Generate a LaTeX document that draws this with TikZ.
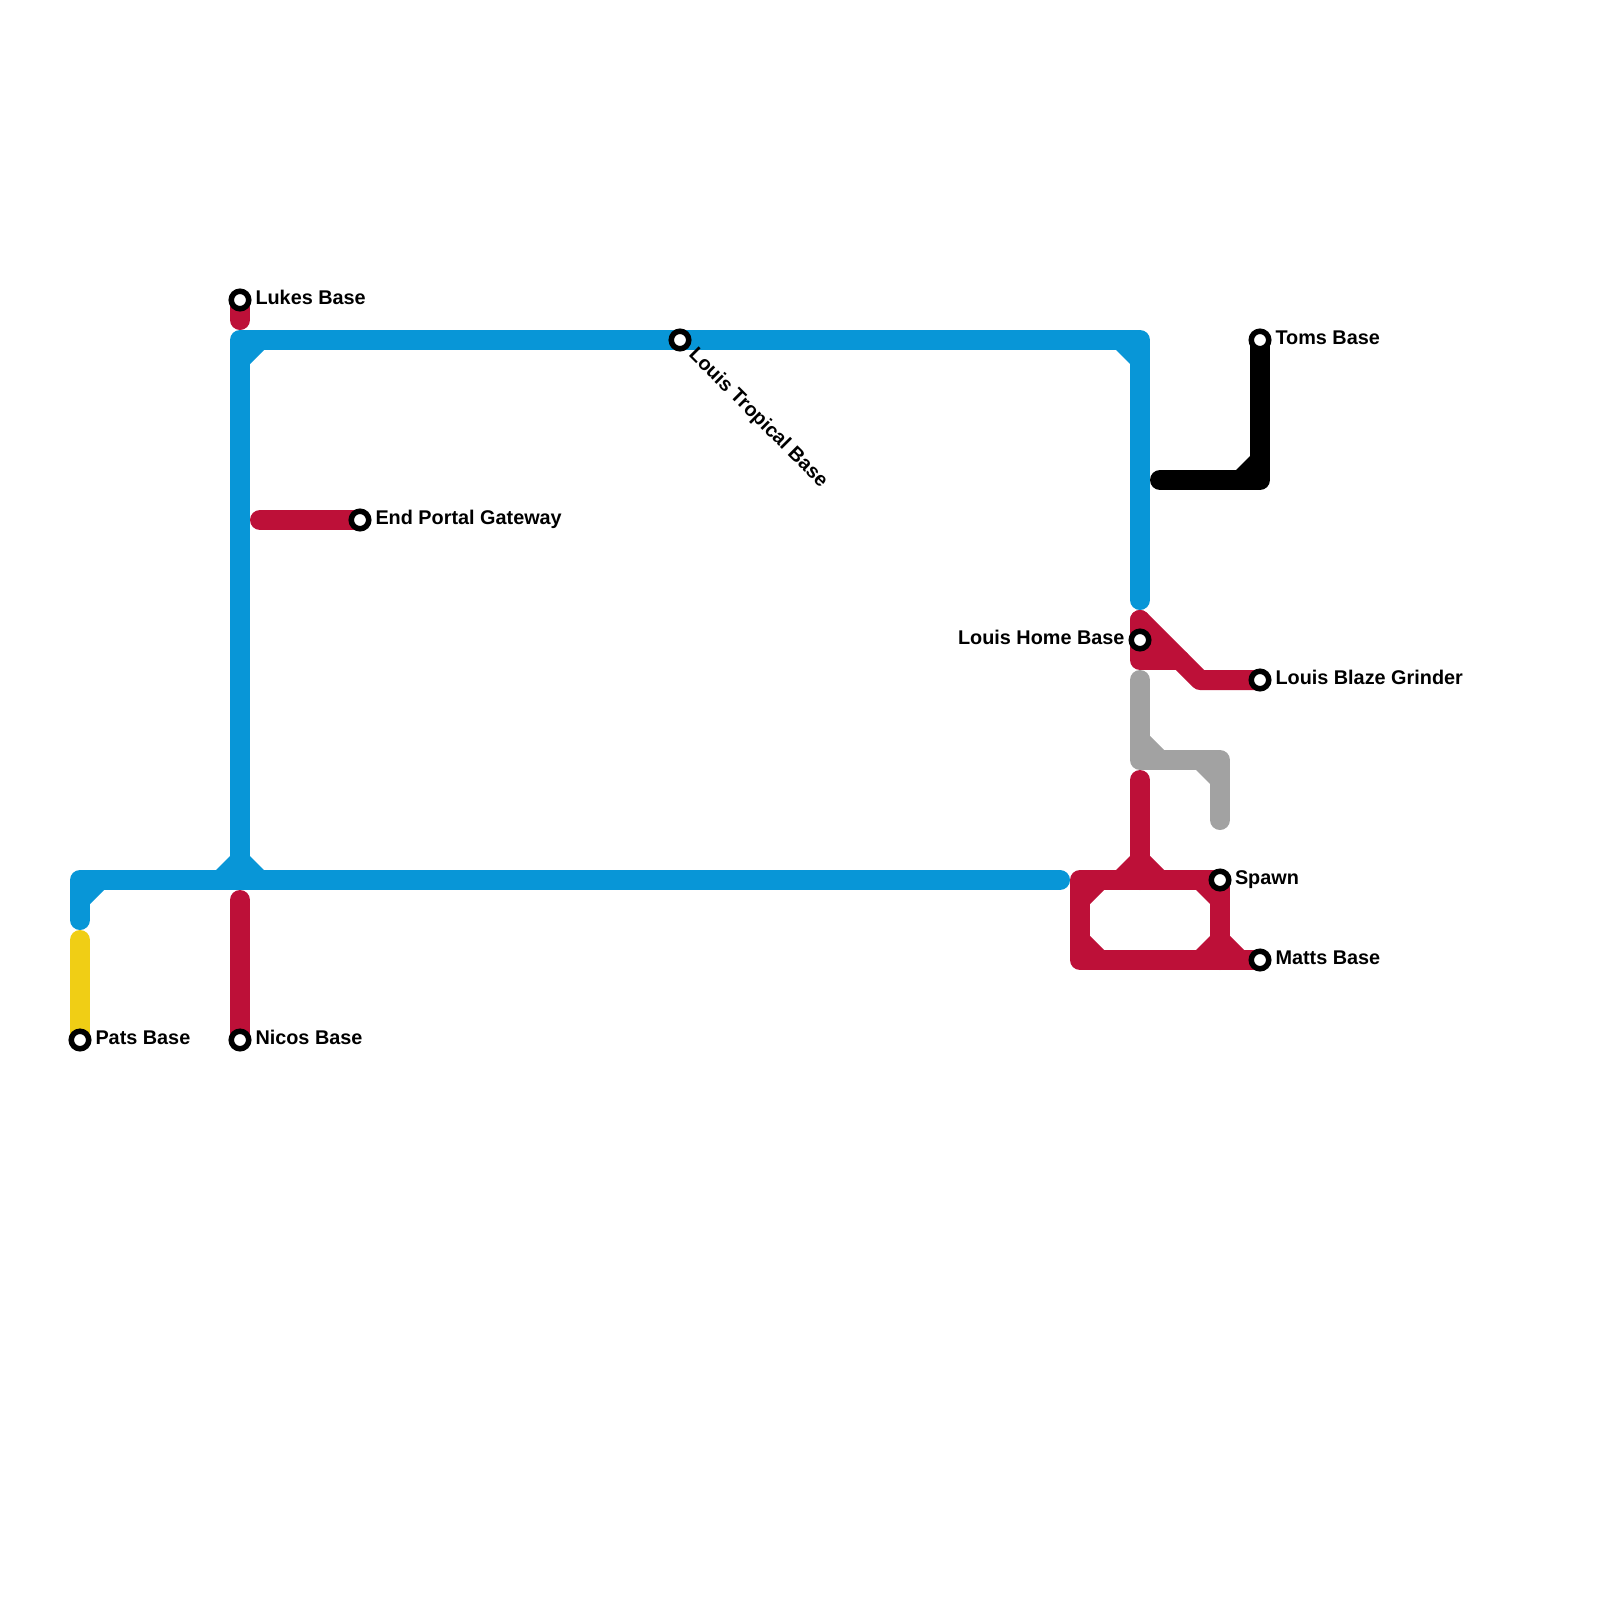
\documentclass[tikz,border=0pt]{standalone}
\usepackage{fontspec}
\setmainfont{Liberation Sans}
\usetikzlibrary{backgrounds,calc}
\definecolor{lblue}{HTML}{0896D7}
\definecolor{lred}{HTML}{BD1038}
\definecolor{lgray}{HTML}{A2A2A2}
\definecolor{lyellow}{HTML}{F0CE15}
\tikzset{
  metro/.style={line width=2mm,line cap=round,line join=round},
  station/.style={circle,draw=black,fill=white,line width=0.55mm,minimum size=1.75mm,inner sep=0pt,outer sep=0pt},
  lab/.style={font=\fontsize{5.64pt}{6.5pt}\selectfont\bfseries,inner sep=0pt,outer sep=0pt,text=black},
  labe/.style={lab,anchor=base west},
  labw/.style={lab,anchor=base east},
}
\newcommand{\chamf}[5]{\fill[#1] (#2,#3) -- ++(#4*14,0) -- ($(#2,#3)+(0,#5*14)$) -- cycle;}
\begin{document}
\begin{tikzpicture}[x=0.01cm,y=-0.01cm]
\useasboundingbox (0,0) rectangle (1600,1600);
% stations
\node[station] (lukes) at (240,300) {};
\node[station] (tropical) at (680,340) {};
\node[station] (toms) at (1260,340) {};
\node[station] (portal) at (360,520) {};
\node[station] (home) at (1140,640) {};
\node[station] (blaze) at (1260,680) {};
\node[station] (spawn) at (1220,880) {};
\node[station] (matts) at (1260,960) {};
\node[station] (pats) at (80,1040) {};
\node[station] (nicos) at (240,1040) {};
% labels
\node[labe] (tlukes) at (255.5,304.7) {Lukes Base};
\node[labe,rotate=-45] (ttropical) at (688,355.5) {Louis Tropical Base};
\node[labe] (ttoms) at (1275.5,344.7) {Toms Base};
\node[labe] (tportal) at (375.5,524.7) {End Portal Gateway};
\node[labw] (thome) at (1124.5,644.7) {Louis Home Base};
\node[labe] (tblaze) at (1275.5,684.7) {Louis Blaze Grinder};
\node[labe] (tspawn) at (1235,884.7) {Spawn};
\node[labe] (tmatts) at (1275.5,964.7) {Matts Base};
\node[labe] (tpats) at (95.5,1044.7) {Pats Base};
\node[labe] (tnicos) at (255.5,1044.7) {Nicos Base};
% corners and free ends
\coordinate (b0) at (80,920);
\coordinate (b1) at (80,880);
\coordinate (b2) at (1060,880);
\coordinate (b3) at (240,880);
\coordinate (b4) at (240,340);
\coordinate (b5) at (1140,340);
\coordinate (b6) at (1140,600);
\coordinate (r1) at (240,320);
\coordinate (r2) at (260,520);
\coordinate (r3) at (240,900);
\coordinate (y1) at (80,940);
\coordinate (k1) at (1160,480);
\coordinate (k2) at (1260,480);
\coordinate (h1) at (1140,620);
\coordinate (h2) at (1140,660);
\coordinate (h3) at (1180,660);
\coordinate (h4) at (1200,680);
\coordinate (g1) at (1140,680);
\coordinate (g2) at (1140,760);
\coordinate (g3) at (1220,760);
\coordinate (g4) at (1220,820);
\coordinate (m1) at (1140,780);
\coordinate (m2) at (1140,880);
\coordinate (m3) at (1080,880);
\coordinate (m4) at (1080,960);
\coordinate (m5) at (1220,960);
\begin{scope}[on background layer]
\draw[metro,lyellow] (y1) -- (pats.center);
\draw[metro,lred] (r3) -- (nicos.center);
\draw[metro,lred] (lukes.center) -- (r1);
\draw[metro,lred] (r2) -- (portal.center);
\draw[metro,lblue] (b0) -- (b1) -- (b2);
\draw[metro,lblue] (b3) -- (b4) -- (tropical.center) -- (b5) -- (b6);
\chamf{lblue}{90}{890}{1}{1}
\chamf{lblue}{230}{870}{-1}{-1}
\chamf{lblue}{250}{870}{1}{-1}
\chamf{lblue}{250}{350}{1}{1}
\chamf{lblue}{1130}{350}{-1}{1}
\draw[metro,black] (k1) -- (k2) -- (toms.center);
\chamf{black}{1250}{470}{-1}{-1}
\fill[lred] (h1) -- (h2) -- (h3) -- (h4) -- cycle;
\draw[metro,lred] (h1) -- (h2) -- (h3);
\draw[metro,lred] (h1) -- (h4) -- (blaze.center);
\draw[metro,lgray] (g1) -- (g2) -- (g3) -- (g4);
\chamf{lgray}{1150}{750}{1}{-1}
\chamf{lgray}{1210}{770}{-1}{1}
\draw[metro,lred] (m1) -- (m2);
\draw[metro,lred] (matts.center) -- (m4) -- (m3) -- (spawn.center) -- (m5);
\chamf{lred}{1130}{870}{-1}{-1}
\chamf{lred}{1150}{870}{1}{-1}
\chamf{lred}{1090}{890}{1}{1}
\chamf{lred}{1090}{950}{1}{-1}
\chamf{lred}{1210}{890}{-1}{1}
\chamf{lred}{1210}{950}{-1}{-1}
\chamf{lred}{1230}{950}{1}{-1}
\end{scope}
\end{tikzpicture}
\end{document}
